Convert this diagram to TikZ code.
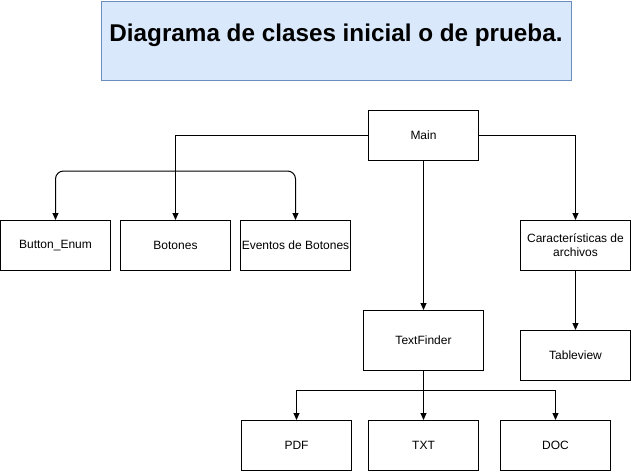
\documentclass[tikz,border=0pt]{standalone}
\usepackage{fontspec}
\setmainfont{Liberation Sans}
\usetikzlibrary{arrows.meta}
\definecolor{tfill}{HTML}{DAE8FC}
\definecolor{tdraw}{HTML}{6C8EBF}
\begin{document}
\begin{tikzpicture}[x=1pt,y=-1pt,
  box/.style={draw, line width=1pt, minimum width=110pt, minimum height=50pt,
    inner sep=0pt, font=\fontsize{12}{14}\selectfont, align=center, anchor=north west},
  wide/.style={minimum width=120pt, minimum height=60pt},
  conn/.style={draw, line width=1pt, -{Triangle[length=7pt,width=6pt]}},
  titlebox/.style={draw=tdraw, fill=tfill, line width=1pt, minimum width=470pt,
    minimum height=79pt, inner sep=0pt, anchor=north west},
]
\useasboundingbox (0,0) rectangle (631,471);
\node[titlebox] (tb) at (101,1) {};
\node[inner sep=0pt] (tt) at (336,35)
  {\resizebox{453pt}{!}{\bfseries Diagrama de clases inicial o de prueba.}};

\node[box] (main) at (368,110) {Main};
\node[box] (btn) at (0,220) {Button\_Enum};
\node[box] (bot) at (120,220) {Botones};
\node[box] (ev) at (240,220) {Eventos de Botones};
\node[box] (car) at (520,220) {Características de\\archivos};
\node[box,wide] (tf) at (363,310) {TextFinder};
\node[box] (tab) at (520,330) {Tableview};
\node[box] (pdf) at (241,420) {PDF};
\node[box] (txt) at (368,420) {TXT};
\node[box] (doc) at (500,420) {DOC};

\draw[conn] (main.west) -| (bot.north);
\draw[conn] (main.east) -| (car.north);
\draw[conn] (main.south) -- (tf.north);
\draw[conn] (car.south) -- (tab.north);
\draw[conn] (tf.south) -- (txt.north);
\draw[conn] (tf.south) -- (tf.south |- 0,390) -| (pdf.north);
\draw[conn] (tf.south) -- (tf.south |- 0,390) -| (doc.north);
\draw[line width=1pt, {Triangle[length=7pt,width=6pt]}-{Triangle[length=7pt,width=6pt]}, rounded corners=8pt]
  (btn.north) -- (btn.north |- 0,171) -| (ev.north);
\end{tikzpicture}
\end{document}
